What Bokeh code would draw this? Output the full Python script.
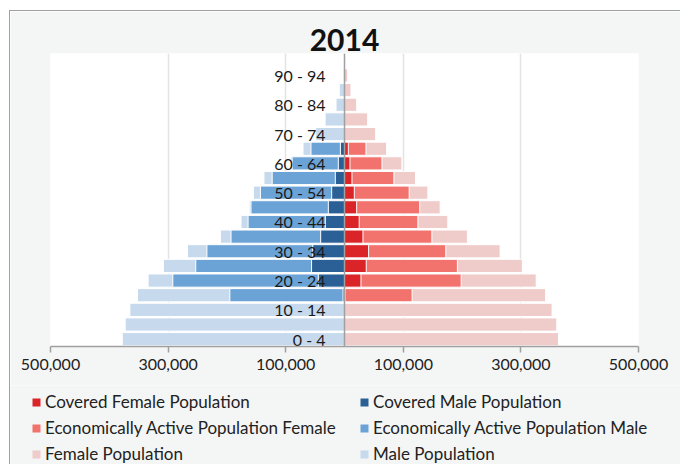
from bokeh.plotting import figure
from bokeh.layouts import column
from bokeh.models import (Range1d, FixedTicker, CustomJSTickFormatter, Legend,
                          LegendItem, Span, ColumnDataSource)
from bokeh.core.properties import value
from bokeh.embed import file_html
from bokeh.resources import INLINE

# ---------------- data (thousands of people) ----------------
ages = ["0 - 4", "5 - 9", "10 - 14", "15 - 19", "20 - 24", "25 - 29", "30 - 34",
        "35 - 39", "40 - 44", "45 - 49", "50 - 54", "55 - 59", "60 - 64",
        "65 - 69", "70 - 74", "75 - 79", "80 - 84", "85 - 89", "90 - 94"]

male_population = [378, 373, 365, 352, 334, 308, 267, 211, 176, 162, 155, 137,
                   92, 70.5, 49, 33, 14.4, 8.8, 2]
male_econ_active = [0, 0, 0, 195, 292, 253, 234, 193, 164, 159, 143, 123,
                    89, 57, 0, 0, 0, 0, 0]
male_covered = [0, 0, 0, 2.5, 44.5, 56, 54, 40.5, 32.6, 27.5, 21.8, 15.6,
                10.5, 7, 0, 0, 0, 0, 0]

female_population = [364, 361, 353, 342, 326, 302.5, 264.6, 209, 175.7, 162.7,
                      141.8, 120.8, 97.6, 71.6, 53, 39.4, 20.7, 11, 5.4]
female_econ_active = [0, 0, 0, 115, 198.4, 192, 172.3, 148.6, 124.8, 128, 110,
                      84, 63.7, 36.5, 0, 0, 0, 0, 0]
female_covered = [0, 0, 0, 1, 28, 37, 41, 31.4, 25, 20.7, 16.7, 12.7, 9.3, 6.5,
                  0, 0, 0, 0, 0]

tick_values = [-500000, -300000, -100000, 100000, 300000, 500000]
title_text = "2014"

# ---------------- build ----------------
n = len(ages)
idx = list(range(n))
src = ColumnDataSource(dict(
    y=idx,
    mp=[-v * 1000 for v in male_population],
    me=[-v * 1000 for v in male_econ_active],
    mc=[-v * 1000 for v in male_covered],
    fp=[v * 1000 for v in female_population],
    fe=[v * 1000 for v in female_econ_active],
    fc=[v * 1000 for v in female_covered],
))

FONT = "Lato"
BG = "#f4f5f5"
W = 670

p = figure(width=W, height=374, output_backend="svg", toolbar_location=None,
           x_range=Range1d(-500000, 500000), y_range=Range1d(-0.5, n + 0.5),
           min_border_left=40, min_border_right=42, min_border_top=42,
           min_border_bottom=39)
p.frame_align = False

p.background_fill_color = "white"
p.border_fill_color = BG
p.outline_line_color = None

p.title.text = title_text
p.title.align = "center"
p.title.text_font = FONT
p.title.text_font_size = "30px"
p.title.text_font_style = "bold"
p.title.text_color = "#111111"
p.title.offset = -8
p.title.standoff = 5

H = 0.9
LW = 1
colors = dict(mp="#c6d9ed", me="#6ba3d6", mc="#2a6095",
              fp="#efcbca", fe="#f2736d", fc="#db2428")

r_mp = p.hbar(y="y", left="mp", right=0, height=H, source=src,
              fill_color=colors["mp"], line_color="white", line_width=LW)
r_fp = p.hbar(y="y", left=0, right="fp", height=H, source=src,
              fill_color=colors["fp"], line_color="white", line_width=LW)
r_me = p.hbar(y="y", left="me", right=0, height=H, source=src,
              fill_color=colors["me"], line_color="white", line_width=LW)
r_fe = p.hbar(y="y", left=0, right="fe", height=H, source=src,
              fill_color=colors["fe"], line_color="white", line_width=LW)
r_mc = p.hbar(y="y", left="mc", right=0, height=H, source=src,
              fill_color=colors["mc"], line_color="white", line_width=LW)
r_fc = p.hbar(y="y", left=0, right="fc", height=H, source=src,
              fill_color=colors["fc"], line_color="white", line_width=LW)

# centre line
p.add_layout(Span(location=0, dimension="height", line_color="#a0a0a0",
                  line_width=1.5))

# age labels (every other group) drawn beside the centre line
lab_src = ColumnDataSource(dict(y=idx[::2], text=ages[::2], x=[0] * len(idx[::2])))
p.text(x="x", y="y", text="text", source=lab_src, x_offset=-19,
       text_align="right", text_baseline="middle", text_font=value(FONT),
       text_font_size="16px", text_color="#1a1a1a")

# axes
p.yaxis.visible = False
p.ygrid.visible = False
ticker = FixedTicker(ticks=tick_values)
p.xaxis.ticker = ticker
p.xgrid.ticker = ticker
p.xgrid.grid_line_color = "#e3e3e3"
p.xgrid.grid_line_width = 1.5
p.xaxis.formatter = CustomJSTickFormatter(
    code="return Math.abs(tick).toLocaleString('en-US');")
p.xaxis.axis_line_color = "#a0a0a0"
p.xaxis.axis_line_width = 1.5
p.xaxis.major_tick_line_color = "#a0a0a0"
p.xaxis.major_tick_line_width = 1.5
p.xaxis.major_tick_out = 6
p.xaxis.major_tick_in = 0
p.xaxis.minor_tick_line_color = None
p.xaxis.major_label_text_font = FONT
p.xaxis.major_label_text_font_size = "16px"
p.xaxis.major_label_text_color = "#222222"
p.xaxis.major_label_standoff = 6

# ---------------- legend strip ----------------
lg = figure(width=W, height=79, output_backend="svg", toolbar_location=None,
            x_range=Range1d(0, 1), y_range=Range1d(0, 1),
            min_border=0, min_border_left=0, min_border_right=0,
            min_border_top=0, min_border_bottom=0)
lg.frame_align = False
lg.axis.visible = False
lg.grid.visible = False
lg.outline_line_color = None
lg.background_fill_color = BG
lg.border_fill_color = BG

# legend proxies: a single missing value each, so nothing is drawn in the strip
proxy = ColumnDataSource(dict(y=[float("nan")], l=[0.0], r=[0.0]))

def swatch(key):
    return lg.hbar(y="y", left="l", right="r", height=1, source=proxy,
                   fill_color=colors[key], line_color=None)

legend_entries = [
    ("Covered Female Population", "fc"),
    ("Economically Active Population Female", "fe"),
    ("Female Population", "fp"),
    ("Covered Male Population", "mc"),
    ("Economically Active Population Male", "me"),
    ("Male Population", "mp"),
]
items = [LegendItem(label=lab, renderers=[swatch(k)]) for lab, k in legend_entries]
legend = Legend(items=items, ncols=2, location=(21, 0),
                padding=0, margin=0, spacing=5,
                glyph_width=10, glyph_height=10, label_standoff=4,
                label_height=16, label_width=309,
                label_text_font=FONT, label_text_font_size="17px",
                label_text_color="#222222",
                background_fill_alpha=0, border_line_alpha=0)
lg.add_layout(legend)

layout = column(p, lg, spacing=0, margin=(10, 0, 0, 9),
                styles={"border-left": "1px solid #a0a0a0",
                        "border-top": "1px solid #a0a0a0"})
open("out.html", "w").write(file_html(layout, INLINE))
